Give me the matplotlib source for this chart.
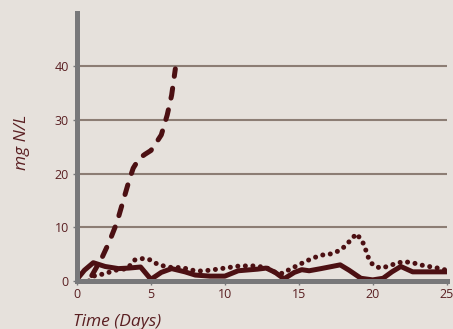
import matplotlib
matplotlib.use("Agg")
import matplotlib.pyplot as plt

# ---- data ----
dashed_x = [1.0, 1.7, 2.2, 2.7, 3.1, 3.5, 3.8, 4.2, 4.6, 5.0, 5.3, 5.7, 6.1, 6.4, 6.65]
dashed_y = [1.0, 4.4, 7.4, 10.9, 14.7, 18.5, 21.0, 22.8, 23.6, 24.3, 25.5, 27.2, 30.9, 34.6, 39.5]

dotted_x = [0.8, 1.2, 1.8, 2.6, 3.4, 3.9, 4.5, 5.0, 5.5, 6.4, 7.1, 7.8, 8.3, 9.0, 10.0, 11.0, 12.0,
            12.8, 13.4, 13.9, 14.4, 15.0, 15.5, 16.0, 16.5, 17.1, 17.7, 18.1, 18.5, 18.9, 19.3,
            19.5, 19.7, 20.0, 20.5, 21.0, 21.6, 22.1, 22.7, 23.2, 23.8, 24.4, 25.0]
dotted_y = [0.0, 1.0, 1.3, 2.0, 2.3, 3.9, 4.2, 3.9, 3.0, 2.5, 2.5, 2.0, 1.85, 2.0, 2.4, 2.8, 2.8,
            2.5, 1.6, 1.4, 2.2, 3.0, 3.7, 4.3, 4.8, 5.0, 5.6, 6.4, 7.6, 8.8, 7.4,
            6.0, 4.4, 3.0, 2.4, 2.7, 3.3, 3.6, 3.4, 3.0, 2.7, 2.4, 2.0]

solid_x = [0, 0.5, 1.1, 1.9, 2.8, 3.5, 4.3, 5.0, 5.7, 6.4, 7.3, 8.0, 9.0, 10.0, 10.9, 12.2, 12.8,
           13.4, 14.0, 14.7, 15.2, 15.7, 16.5, 17.8, 18.4, 19.2, 20.0, 20.7, 21.3, 21.9, 22.7, 25.0]
solid_y = [0.3, 2.0, 3.4, 2.7, 2.3, 2.4, 2.6, 0.3, 1.6, 2.3, 1.7, 1.1, 0.9, 0.9, 1.9, 2.2, 2.4,
           1.6, 0.4, 1.6, 2.1, 1.9, 2.3, 3.0, 2.0, 0.5, 0.2, 0.5, 1.7, 2.7, 1.7, 1.7]

x_ticks = [0, 5, 10, 15, 20, 25]
y_ticks = [0, 10, 20, 30, 40]

BG = "#e6e1dc"
LINE = "#4c1013"
TEXT = "#5a1f22"
SPINE = "#78787a"
GRID = "#8c7d74"

plt.rcParams["font.family"] = ["Open Sans", "DejaVu Sans"]

fig = plt.figure(figsize=(4.53, 3.29), dpi=100)
fig.patch.set_facecolor(BG)
ax = fig.add_axes([0.170, 0.146, 0.816, 0.816])
ax.set_facecolor(BG)

for y in y_ticks[1:]:
    ax.plot([0, 25], [y, y], color=GRID, lw=1.5, zorder=1, solid_capstyle="butt")

ax.plot(solid_x, solid_y, color=LINE, lw=3.6, solid_capstyle="round",
        solid_joinstyle="round", zorder=3)
ax.plot(dotted_x, dotted_y, color=LINE, lw=3.6, linestyle=(0, (0.01, 1.5)),
        dash_capstyle="round", zorder=3)
ax.plot(dashed_x, dashed_y, color=LINE, lw=3.6, linestyle=(0, (2.0, 2.4)),
        dash_capstyle="round", zorder=3)

ax.set_xlim(0, 25)
ax.set_ylim(0, 50)
ax.set_xticks(x_ticks)
ax.set_yticks(y_ticks)
ax.tick_params(axis="x", colors=SPINE, length=3, width=1, labelcolor=TEXT, labelsize=9, pad=2)
ax.tick_params(axis="y", colors=SPINE, length=3, width=1, labelcolor=TEXT, labelsize=9, pad=3)

for side in ("top", "right"):
    ax.spines[side].set_visible(False)
for side in ("left", "bottom"):
    ax.spines[side].set_color(SPINE)
    ax.spines[side].set_linewidth(3.6)
    ax.spines[side].set_zorder(4)
    ax.spines[side].set_capstyle("projecting")

ax.set_xlabel("Time (Days)", fontsize=12.5, fontstyle="italic", color=TEXT, ha="left", va="baseline")
ax.set_ylabel("mg N/L", fontsize=12.5, fontstyle="italic", color=TEXT, va="center")
ax.xaxis.set_label_coords(-0.01, -0.166)
ax.yaxis.set_label_coords(-0.149, 0.518)

fig.savefig("out.png", dpi=100, facecolor=BG)
